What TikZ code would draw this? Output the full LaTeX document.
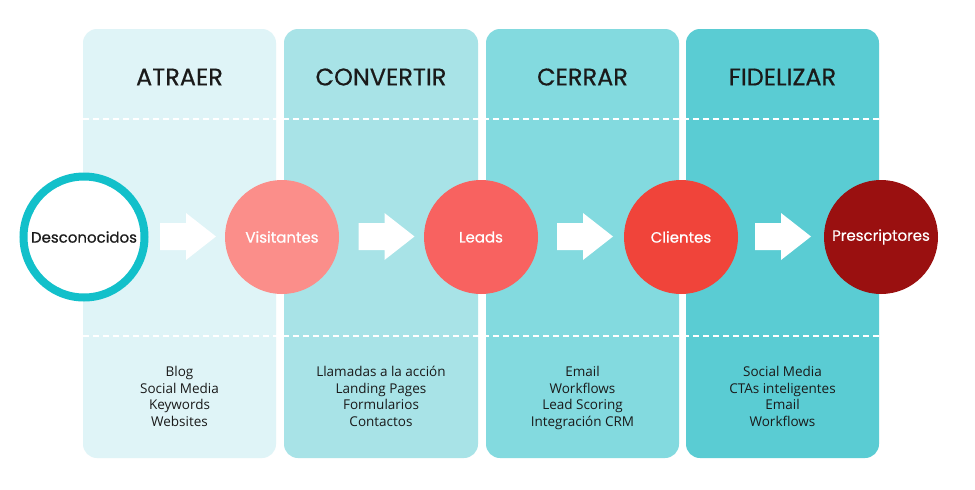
\documentclass[tikz,border=0pt]{standalone}
\usepackage{fontspec}
\setmainfont{Open Sans}
\newfontfamily\titlefont{Poppins}[FakeBold=0.5]
\definecolor{pa}{HTML}{DFF4F7}
\definecolor{pb}{HTML}{A8E3E7}
\definecolor{pc}{HTML}{83DADF}
\definecolor{pd}{HTML}{5ACCD3}
\definecolor{ring}{HTML}{12C0CA}
\definecolor{ca}{HTML}{FB8E8A}
\definecolor{cb}{HTML}{F86260}
\definecolor{cc}{HTML}{F0443A}
\definecolor{cd}{HTML}{9A1010}
\definecolor{txt}{HTML}{1A1A1A}
\tikzset{
  panel/.style={rounded corners=14pt},
  ttl/.style={font=\titlefont\fontsize{24}{28}\selectfont, text=txt, anchor=center},
  lst/.style={font=\fontsize{13.5}{16.5}\selectfont, text=txt, align=center, anchor=north},
  stage/.style={circle, minimum size=114pt, inner sep=0pt, text=white, font=\titlefont\fontsize{15}{17}\selectfont},
  dashline/.style={white, line width=2pt, dash pattern=on 6pt off 4pt},
  blockarrow/.style={fill=white}
}
\begin{document}
\begin{tikzpicture}[x=1pt,y=-1pt]
\useasboundingbox (0,0) rectangle (975,490);
\fill[white] (0,0) rectangle (975,490);
% panels
\fill[panel,pa] (83,29) rectangle (276,458);
\fill[panel,pb] (284,29) rectangle (478,458);
\fill[panel,pc] (486,29) rectangle (679,458);
\fill[panel,pd] (686,29) rectangle (879,458);
% dashed separators
\draw[dashline] (83,119) -- (879,119);
\draw[dashline] (83,336) -- (879,336);
% titles
\node[ttl] (t1) at (179.5,77) {ATRAER};
\node[ttl] (t2) at (381,77) {CONVERTIR};
\node[ttl] (t3) at (582.5,77) {CERRAR};
\node[ttl] (t4) at (782.5,77) {FIDELIZAR};
% circles
\node[circle, minimum size=121pt, inner sep=0pt, draw=ring, line width=8pt, fill=white, text=txt,
      font=\titlefont\fontsize{15}{17}\selectfont] (s0) at (84,237) {Desconocidos};
\node[stage, fill=ca] (s1) at (282,237) {Visitantes};
\node[stage, fill=cb] (s2) at (481,237) {Leads};
\node[stage, fill=cc] (s3) at (681,237) {Clientes};
\node[stage, fill=cd] (s4) at (881,237) {Prescriptores};
% block arrows
\foreach \x in {160,358.5,557,755}{
  \fill[blockarrow] (\x,223) -- (\x+26,223) -- (\x+26,213) -- (\x+56,236.5) -- (\x+26,260) -- (\x+26,250) -- (\x,250) -- cycle;
}
% lists
\node[lst] (l1) at (179.5,363) {Blog\\Social Media\\Keywords\\Websites};
\node[lst] (l2) at (381,363) {Llamadas a la acción\\Landing Pages\\Formularios\\Contactos};
\node[lst] (l3) at (582.5,363) {Email\\Workflows\\Lead Scoring\\Integración CRM};
\node[lst] (l4) at (782.5,363) {Social Media\\CTAs inteligentes\\Email\\Workflows};
\end{tikzpicture}
\end{document}
